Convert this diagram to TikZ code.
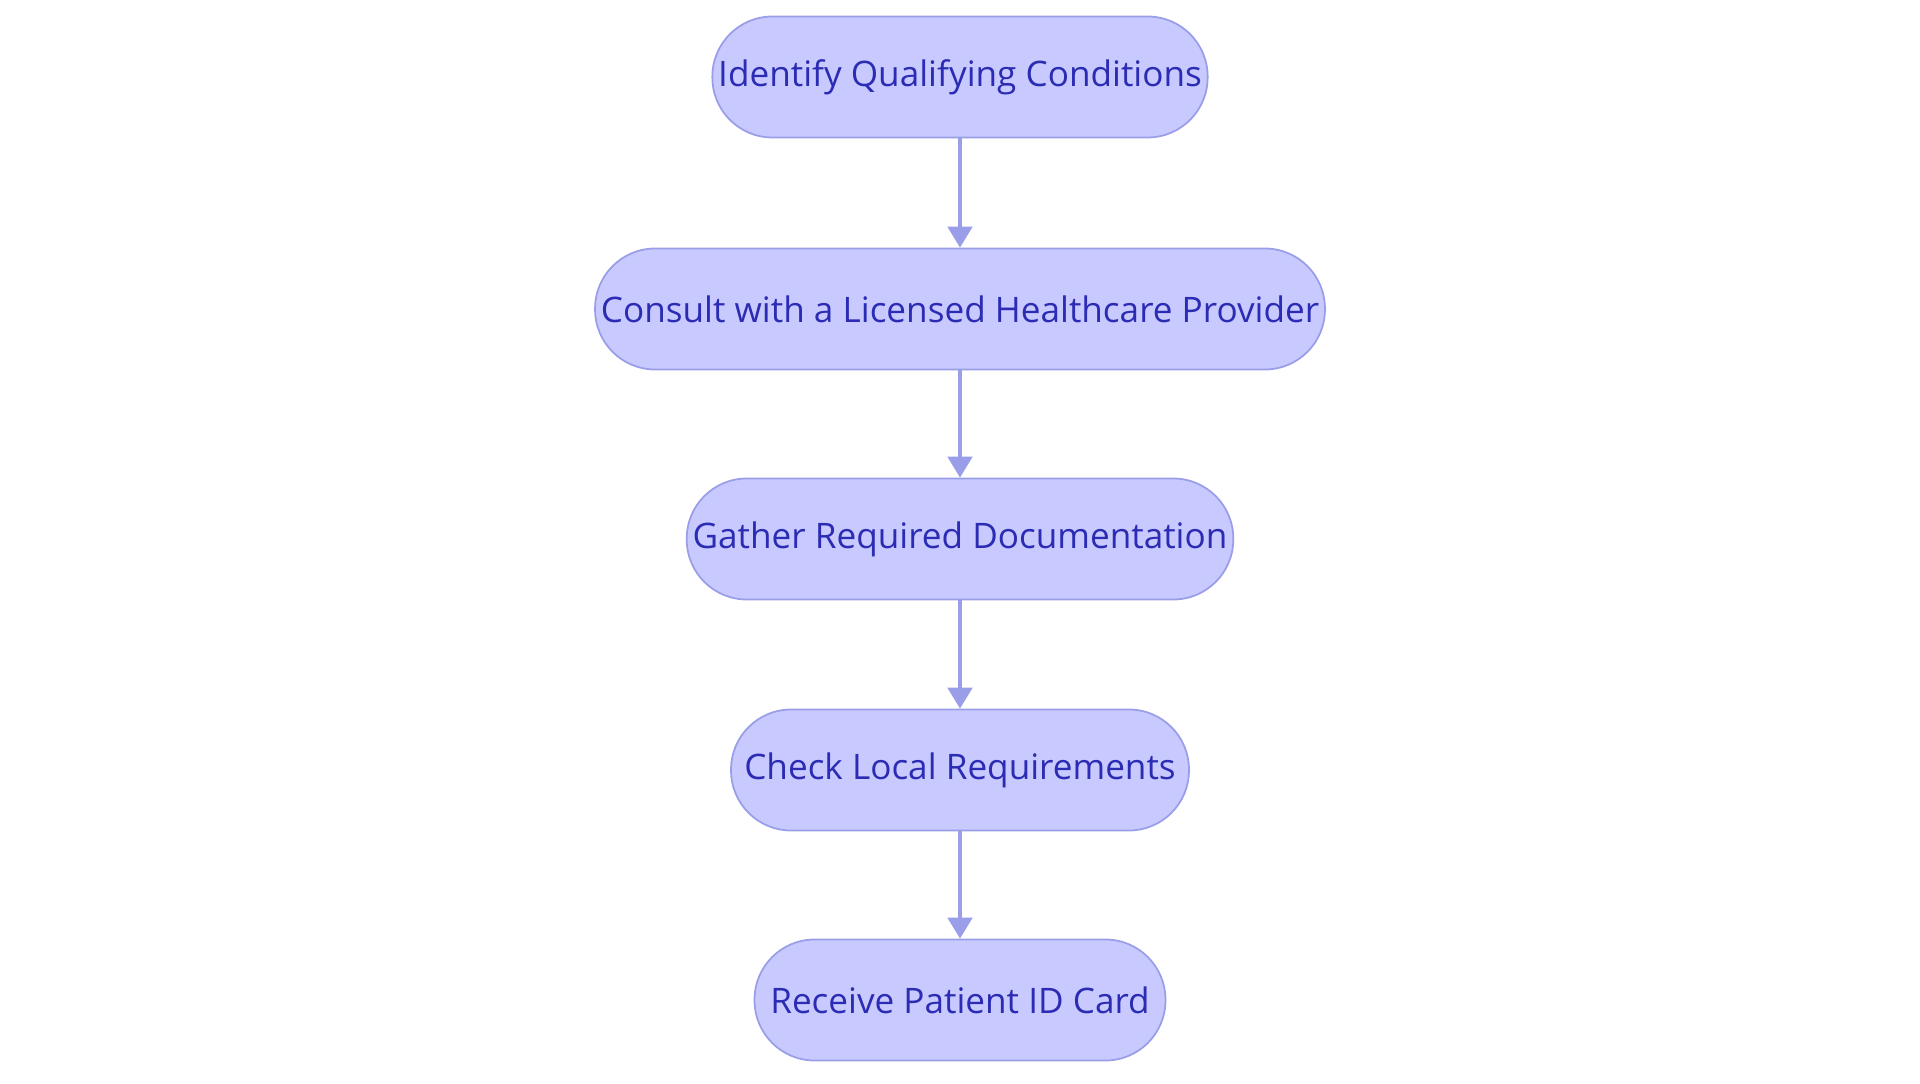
\documentclass[tikz,border=0pt]{standalone}
\usepackage{fontspec}
\setmainfont{Open Sans}
\usetikzlibrary{positioning,arrows.meta}
\definecolor{stepfill}{HTML}{C8CAFF}
\definecolor{stepline}{HTML}{9A9EE8}
\definecolor{steptext}{HTML}{2B2BB3}
\tikzset{
  stepbox/.style={draw=stepline,fill=stepfill,text=steptext,line width=1pt,
    rounded corners=1.2cm,minimum height=2.42cm,font=\fontsize{20}{24}\selectfont},
  flow/.style={draw=stepline,line width=2pt,-{Triangle[length=12pt,width=14pt]}}
}
\begin{document}
\begin{tikzpicture}[x=0.02cm,y=0.02cm]
  \useasboundingbox (0,0) rectangle (1920,1083);
  % steps
  \node[stepbox,minimum width=9.82cm] (qualify) at (960,1006) {Identify Qualifying Conditions};
  \node[stepbox,minimum width=14cm] (consult) at (960,774) {Consult with a Licensed Healthcare Provider};
  \node[stepbox,minimum width=10.78cm] (gather) at (960,544) {Gather Required Documentation};
  \node[stepbox,minimum width=9.16cm] (check) at (960,313) {Check Local Requirements};
  \node[stepbox,minimum width=8.22cm] (receive) at (960,83) {Receive Patient ID Card};
  % arrows
  \draw[flow] (qualify) -- (consult);
  \draw[flow] (consult) -- (gather);
  \draw[flow] (gather) -- (check);
  \draw[flow] (check) -- (receive);
\end{tikzpicture}
\end{document}
